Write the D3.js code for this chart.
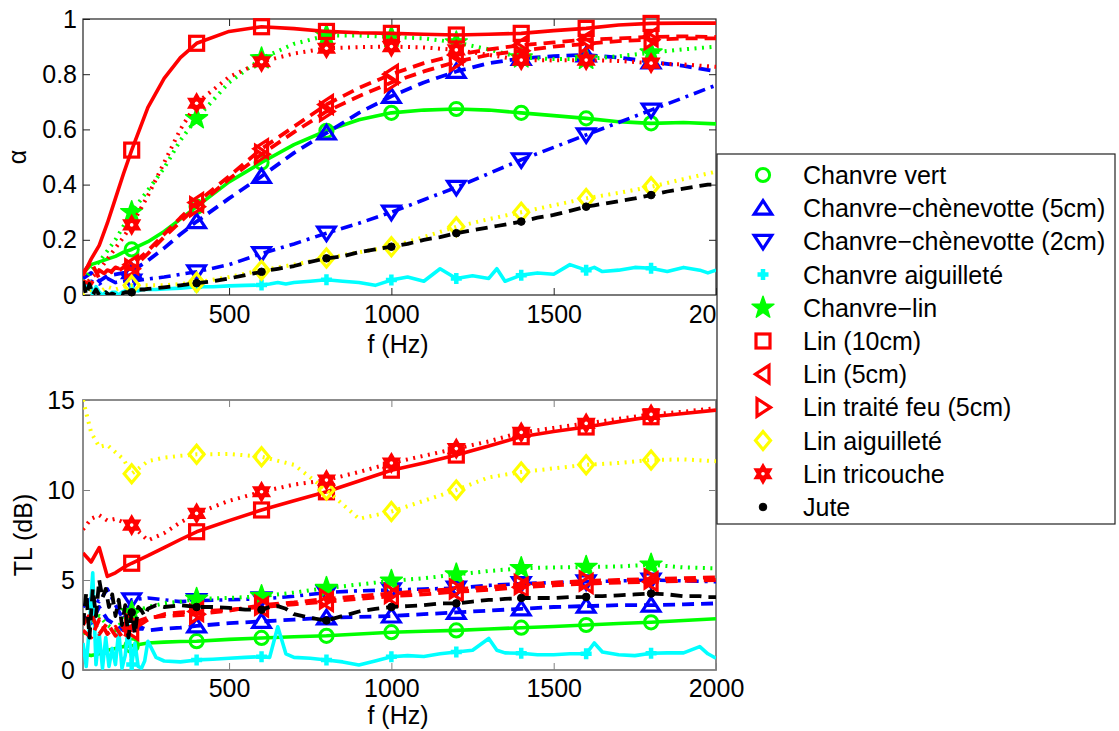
<!DOCTYPE html>
<html><head><meta charset="utf-8">
<script src="https://cdn.jsdelivr.net/npm/d3@7"></script>
<style>
body{margin:0;background:#fff;}
svg{display:block;}
text{font-family:"Liberation Sans",Arial,sans-serif;fill:#000;}
</style></head><body>
<svg id="chart" width="1119" height="731"></svg>
<script>
// ---------------- DATA ----------------
const seriesNames = ["Chanvre vert","Chanvre\u2212chènevotte (5cm)","Chanvre\u2212chènevotte (2cm)","Chanvre aiguilleté","Chanvre\u2212lin","Lin (10cm)","Lin (5cm)","Lin traité feu (5cm)","Lin aiguilleté","Lin tricouche","Jute"];

// common frequency grid (Hz)
const freqs = [50,75,100,125,150,175,200,250,300,350,400,500,600,700,800,900,1000,1100,1200,1300,1400,1500,1600,1700,1800,1900,2000];
// finer grid for the noisy measurements
const freqsFine = [50,60,70,80,90,100,110,120,130,140,150,160,170,180,190,200,210,220,230,240,250,275,300,350,400,450,500,550,600,625,650,675,700,750,800,850,900,950,1000,1050,1100,1150,1200,1250,1300,1325,1350,1400,1450,1500,1550,1600,1625,1650,1700,1750,1800,1850,1900,1950,1975,2000];
const markerFreqs = [200,400,600,800,1000,1200,1400,1600,1800];

const alphaTicks = [0,0.2,0.4,0.6,0.8,1];
const tlTicks = [0,5,10,15];
const freqTicks = [500,1000,1500,2000];

// absorption coefficient alpha
const alphaChanvreVert   = [0.08,0.11,0.12,0.13,0.14,0.155,0.165,0.193,0.23,0.275,0.32,0.41,0.48,0.545,0.595,0.635,0.66,0.67,0.674,0.67,0.66,0.65,0.64,0.628,0.622,0.625,0.62];
const alphaChenev5       = [0.06,0.08,0.05,0.07,0.075,0.08,0.085,0.125,0.17,0.22,0.266,0.35,0.43,0.515,0.587,0.66,0.72,0.77,0.81,0.84,0.857,0.865,0.87,0.86,0.845,0.83,0.81];
const alphaChenev2       = [0.03,0.05,0.04,0.06,0.045,0.05,0.05,0.058,0.065,0.075,0.084,0.11,0.15,0.185,0.224,0.26,0.30,0.345,0.39,0.44,0.49,0.535,0.58,0.625,0.67,0.715,0.76];
const alphaChanvreAig    = [0.04,0.02,0.05,0.0,0.03,0.01,0.0,0.01,0.0,0.01,0.01,0.0,0.01,0.015,0.01,0.018,0.02,0.015,0.02,0.02,0.02,0.02,0.022,0.025,0.03,0.03,0.033,0.035,0.036,0.04,0.045,0.04,0.045,0.05,0.055,0.05,0.045,0.035,0.054,0.065,0.05,0.095,0.06,0.07,0.06,0.095,0.05,0.072,0.08,0.075,0.11,0.09,0.1,0.085,0.09,0.1,0.097,0.085,0.1,0.09,0.08,0.09];
const alphaChanvreLin    = [0.05,0.09,0.12,0.16,0.2,0.25,0.30,0.38,0.46,0.56,0.64,0.77,0.857,0.91,0.94,0.94,0.935,0.93,0.915,0.89,0.86,0.855,0.855,0.865,0.878,0.89,0.90];
const alphaLin10         = [0.07,0.13,0.18,0.26,0.35,0.44,0.525,0.68,0.785,0.86,0.912,0.955,0.972,0.965,0.955,0.95,0.948,0.945,0.942,0.945,0.948,0.958,0.966,0.978,0.984,0.985,0.985];
const alphaLin5          = [0.08,0.12,0.06,0.09,0.08,0.1,0.11,0.16,0.22,0.28,0.335,0.43,0.53,0.61,0.69,0.75,0.80,0.84,0.87,0.89,0.905,0.915,0.925,0.93,0.935,0.937,0.935];
const alphaLinFeu        = [0.05,0.04,0.09,0.07,0.1,0.09,0.095,0.15,0.21,0.265,0.32,0.42,0.51,0.59,0.665,0.72,0.77,0.81,0.845,0.87,0.885,0.9,0.91,0.92,0.925,0.93,0.93];
const alphaLinAig        = [0.0,0.02,0.01,0.03,0.02,0.03,0.035,0.035,0.035,0.04,0.045,0.065,0.09,0.11,0.134,0.155,0.175,0.21,0.247,0.275,0.30,0.325,0.35,0.37,0.392,0.42,0.447];
const alphaLinTri        = [0.03,0.06,0.09,0.13,0.17,0.21,0.254,0.36,0.48,0.6,0.695,0.79,0.845,0.875,0.894,0.898,0.90,0.897,0.888,0.87,0.851,0.85,0.851,0.848,0.84,0.835,0.827];
const alphaJute          = [0.05,0.0,0.04,0.0,0.02,0.0,0.0,0.01,0.0,0.005,0.0,0.01,0.005,0.01,0.01,0.01,0.015,0.02,0.02,0.02,0.022,0.025,0.028,0.035,0.043,0.05,0.06,0.072,0.084,0.09,0.095,0.1,0.105,0.12,0.133,0.14,0.155,0.165,0.175,0.185,0.2,0.21,0.224,0.235,0.245,0.25,0.255,0.266,0.28,0.29,0.305,0.32,0.325,0.33,0.34,0.35,0.362,0.375,0.385,0.395,0.4,0.4];

// transmission loss TL (dB)
const tlChanvreVert   = [0.9,0.8,0.9,1.1,1.2,1.3,1.35,1.5,1.55,1.58,1.6,1.7,1.78,1.85,1.9,2.0,2.1,2.15,2.2,2.28,2.35,2.42,2.5,2.58,2.65,2.75,2.85];
const tlChenev5       = [3.0,2.6,3.5,2.8,2.5,2.2,2.6,2.2,2.3,2.35,2.45,2.6,2.7,2.8,2.9,2.95,3.0,3.1,3.2,3.3,3.4,3.5,3.55,3.6,3.6,3.65,3.7];
const tlChenev2       = [3.5,4.0,3.8,4.5,3.6,2.8,3.9,4.0,3.9,3.8,3.85,3.9,3.95,4.1,4.3,4.4,4.45,4.5,4.55,4.7,4.8,4.85,4.9,4.95,5.0,4.95,4.9];
const tlChanvreAig    = [1.5,0.2,2.5,5.4,0.3,2.0,0.1,1.8,0.2,1.2,0.3,2.2,0.1,0.8,2.5,0.3,1.5,0.2,0.1,0.5,1.6,0.7,0.5,0.45,0.56,0.6,0.65,0.7,0.74,0.7,2.4,0.9,0.7,0.65,0.56,0.45,0.28,0.5,0.74,0.8,0.75,0.9,1.0,1.1,1.75,1.1,0.95,0.93,0.85,0.85,0.9,0.9,1.5,1.0,0.85,0.8,0.93,0.95,0.95,1.3,0.9,0.65];
const tlChanvreLin    = [2.0,2.5,3.0,2.5,2.2,2.8,3.2,3.5,3.7,3.8,3.95,4.0,4.1,4.3,4.55,4.75,4.95,5.1,5.3,5.5,5.65,5.7,5.72,5.75,5.85,5.7,5.65];
const tlLin10         = [6.5,6.0,6.8,5.2,5.4,5.7,5.93,6.35,6.8,7.25,7.68,8.3,8.89,9.4,9.9,10.5,11.1,11.5,11.94,12.45,12.96,13.25,13.5,13.8,14.07,14.25,14.44];
const tlLin5          = [2.5,3.2,2.0,2.6,1.9,2.4,2.2,2.8,3.1,3.2,3.25,3.35,3.5,3.65,3.8,3.95,4.1,4.2,4.35,4.45,4.6,4.7,4.8,4.85,4.9,4.95,5.0];
const tlLinFeu        = [2.2,1.8,2.8,2.0,2.4,1.7,2.6,2.9,3.0,3.05,3.1,3.3,3.6,3.75,3.95,4.1,4.25,4.4,4.5,4.6,4.75,4.85,4.95,5.0,5.05,5.1,5.15];
const tlLinAig        = [15.0,13.2,12.4,12.5,12.1,11.7,10.9,11.6,11.8,11.9,11.98,12.0,11.85,11.4,10.0,8.4,8.8,9.4,10.0,10.7,11.0,11.2,11.4,11.5,11.67,11.7,11.6];
const tlLinTri        = [7.8,8.4,8.6,8.3,8.4,8.2,8.05,7.2,7.6,8.2,8.7,9.4,9.9,10.3,10.55,11.0,11.5,11.9,12.3,12.7,13.2,13.45,13.7,13.95,14.2,14.35,14.55];
const tlJute          = [2.5,4.3,1.8,4.5,3.0,5.0,4.0,4.5,3.5,4.2,3.0,3.9,2.5,3.6,1.8,3.2,2.0,3.5,3.3,3.0,3.4,3.6,3.5,3.6,3.5,3.5,3.45,3.35,3.35,3.5,3.55,3.4,3.1,2.9,2.75,3.0,3.25,3.4,3.5,3.55,3.6,3.7,3.7,3.8,3.9,3.9,3.95,4.0,4.0,4.0,4.05,4.06,4.1,4.1,4.15,4.2,4.25,4.2,4.1,4.1,4.05,4.05];

// ---------------- STYLES ----------------
const styleColors  = ["#00ff00","#0000ff","#0000ff","#00ffff","#00ff00","#ff0000","#ff0000","#ff0000","#ffff00","#ff0000","#000000"];
const styleDashes  = ["solid","dashed","dashdot","solid","dotted","solid","dashed","dashed","dotted","dotted","dashed"];
const styleMarkers = ["o","^","v","+","p","s","<",">","d","h","."];

const seriesData = [
  [freqs, alphaChanvreVert, tlChanvreVert],
  [freqs, alphaChenev5, tlChenev5],
  [freqs, alphaChenev2, tlChenev2],
  [freqsFine, alphaChanvreAig, tlChanvreAig],
  [freqs, alphaChanvreLin, tlChanvreLin],
  [freqs, alphaLin10, tlLin10],
  [freqs, alphaLin5, tlLin5],
  [freqs, alphaLinFeu, tlLinFeu],
  [freqs, alphaLinAig, tlLinAig],
  [freqs, alphaLinTri, tlLinTri],
  [freqsFine, alphaJute, tlJute]
];

const dashMap = {solid:null, dashed:"12,7", dotted:"2,5.5", dashdot:"12,6,3,6"};
const widthMap = {solid:3.6, dashed:3.8, dotted:4, dashdot:3.6};

function starPath(n, R, r){
  const pts=[];
  for(let i=0;i<2*n;i++){
    const a = -Math.PI/2 + i*Math.PI/n;
    const rad = i%2===0 ? R : r;
    pts.push([rad*Math.cos(a), rad*Math.sin(a)]);
  }
  return "M"+pts.map(p=>p[0].toFixed(2)+","+p[1].toFixed(2)).join("L")+"Z";
}

function drawMarker(g, type, color){
  switch(type){
    case "o": g.append("circle").attr("r",6.6).attr("fill","none").attr("stroke",color).attr("stroke-width",3); break;
    case "^": g.append("path").attr("d","M0,-7.5L8.8,6L-8.8,6Z").attr("fill","none").attr("stroke",color).attr("stroke-width",3.2); break;
    case "v": g.append("path").attr("d","M0,7.5L8.8,-6L-8.8,-6Z").attr("fill","none").attr("stroke",color).attr("stroke-width",3.2); break;
    case "<": g.append("path").attr("d","M-7.5,0L6,-8.8L6,8.8Z").attr("fill","none").attr("stroke",color).attr("stroke-width",3.2); break;
    case ">": g.append("path").attr("d","M7.5,0L-6,-8.8L-6,8.8Z").attr("fill","none").attr("stroke",color).attr("stroke-width",3.2); break;
    case "s": g.append("rect").attr("x",-7).attr("y",-7).attr("width",14).attr("height",14).attr("fill","none").attr("stroke",color).attr("stroke-width",3.2); break;
    case "d": g.append("path").attr("d","M0,-9L7.5,0L0,9L-7.5,0Z").attr("fill","none").attr("stroke",color).attr("stroke-width",3.2); break;
    case "+": g.append("path").attr("d","M-5.5,0H5.5M0,-5.5V5.5").attr("fill","none").attr("stroke",color).attr("stroke-width",4.5); break;
    case "p": g.append("path").attr("d",starPath(5,11.5,4.6)).attr("fill",color).attr("stroke",color).attr("stroke-width",1.5).attr("stroke-linejoin","round"); break;
    case "h":
      g.append("path").attr("d",starPath(6,9.5,9.5/Math.sqrt(3))).attr("fill",color).attr("stroke",color).attr("stroke-width",1.6);
      g.append("circle").attr("r",1.8).attr("fill","#fff");
      break;
    case ".": g.append("circle").attr("r",3.8).attr("fill",color).attr("stroke",color).attr("stroke-width",1); break;
  }
}

// ---------------- CHART ----------------
const svg = d3.select("#chart");
svg.append("rect").attr("width",1119).attr("height",731).attr("fill","#fff");
const defs = svg.append("defs");
const FONT = 25;

const x = d3.scaleLinear().domain([50,2000]).range([83,716]);
const yTop = d3.scaleLinear().domain([0,1]).range([295,19]);
const yBot = d3.scaleLinear().domain([0,15]).range([670,400]);

function panel(yScale, which, yTickVals, yFmt, frameColor, frameW, xPad, yPad, name){
  const [x0,x1] = x.range();
  const [yb,yt] = yScale.range();
  const g = svg.append("g");
  defs.append("clipPath").attr("id","clip"+name).append("rect")
    .attr("x",x0).attr("y",yt).attr("width",x1-x0).attr("height",yb-yt);

  const ax = g.append("g").attr("class","axes");
  ax.append("g").attr("transform",`translate(0,${yb})`)
    .call(d3.axisBottom(x).tickValues(freqTicks).tickSize(-7).tickPadding(xPad).tickFormat(d3.format("d")));
  ax.append("g").attr("transform",`translate(${x0},0)`)
    .call(d3.axisLeft(yScale).tickValues(yTickVals).tickSize(-7).tickPadding(yPad).tickFormat(yFmt));
  ax.append("g").attr("transform",`translate(0,${yt})`)
    .call(d3.axisTop(x).tickValues(freqTicks.filter(v=>v<2000)).tickSize(-7).tickFormat(""));
  ax.append("g").attr("transform",`translate(${x1},0)`)
    .call(d3.axisRight(yScale).tickValues(yTickVals.slice(1,-1)).tickSize(-7).tickFormat(""));
  ax.selectAll(".domain").remove();
  ax.selectAll(".tick line").attr("stroke",frameColor).attr("stroke-width",1);
  ax.selectAll(".tick text").attr("font-size",FONT).attr("font-family","Liberation Sans, Arial, sans-serif").attr("fill","#000");
  g.append("rect").attr("x",x0).attr("y",yt).attr("width",x1-x0).attr("height",yb-yt)
    .attr("fill","none").attr("stroke",frameColor).attr("stroke-width",frameW);

  seriesData.forEach((sd,i)=>{
    const grid = sd[0];
    const vals = which==="alpha" ? sd[1] : sd[2];
    const pts = grid.map((f,k)=>[f, vals[k]]);
    const color = styleColors[i];
    const dash = styleDashes[i];
    g.append("path").datum(pts)
      .attr("clip-path",`url(#clip${name})`)
      .attr("d", d3.line().x(d=>x(d[0])).y(d=>yScale(d[1])))
      .attr("fill","none").attr("stroke",color)
      .attr("stroke-width",widthMap[dash])
      .attr("stroke-dasharray",dashMap[dash])
      .attr("stroke-linejoin","round");
    pts.filter(d=>markerFreqs.includes(d[0])).forEach(d=>{
      const mg = g.append("g").attr("transform",`translate(${x(d[0])},${yScale(d[1])})`);
      drawMarker(mg, styleMarkers[i], color);
    });
  });
}

panel(yTop, "alpha", alphaTicks, d=>String(+d.toFixed(1)), "#222", 1.2, 10, 6, "top");
panel(yBot, "tl", tlTicks, d3.format("d"), "#808080", 1.8, 9, 8, "bot");

// axis titles
svg.append("text").attr("x",398).attr("y",353).attr("text-anchor","middle").attr("font-size",FONT).text("f (Hz)");
svg.append("text").attr("x",398).attr("y",724).attr("text-anchor","middle").attr("font-size",FONT).text("f (Hz)");
svg.append("text").attr("transform","translate(26,157) rotate(-90)").attr("text-anchor","middle").attr("font-size",FONT).text("\u03b1");
svg.append("text").attr("transform","translate(32,535) rotate(-90)").attr("text-anchor","middle").attr("font-size",FONT).text("TL (dB)");

// legend
const leg = svg.append("g");
leg.append("rect").attr("x",717).attr("y",154).attr("width",398).attr("height",370)
  .attr("fill","#fff").attr("stroke","#222").attr("stroke-width",1.2);
const legY = d3.scalePoint().domain(seriesNames).range([175,507]);
seriesNames.forEach((nm,i)=>{
  const mg = leg.append("g").attr("transform",`translate(763,${legY(nm)})`);
  drawMarker(mg, styleMarkers[i], styleColors[i]);
  leg.append("text").attr("x",803).attr("y",legY(nm)+9).attr("font-size",FONT).text(nm);
});
</script>
</body></html>
